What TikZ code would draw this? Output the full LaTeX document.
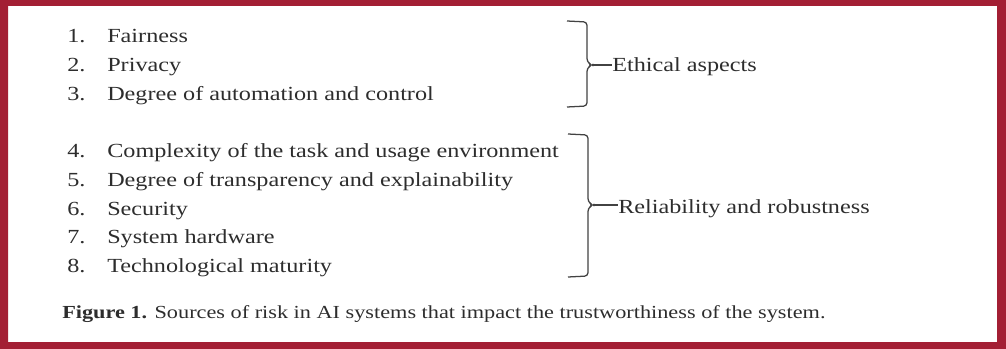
\documentclass[tikz,border=0pt]{standalone}
\usepackage{fontspec}
\setmainfont[FakeStretch=1.21]{Liberation Serif}
\usepackage{tikz}
\usetikzlibrary{calc, positioning}
\definecolor{cFrame}{RGB}{163,31,52}
\definecolor{cText}{RGB}{45,45,45}
\tikzset{
    itemnum/.style={anchor=base west, inner sep=0pt, text=cText, font=\fontsize{15}{17}\selectfont},
    itemtxt/.style={anchor=base west, inner sep=0pt, text=cText, font=\fontsize{15}{17}\selectfont},
    grouplbl/.style={anchor=base west, inner sep=0pt, text=cText, font=\fontsize{15}{17}\selectfont},
    bracket/.style={line width=0.95pt, draw=cText!90, rounded corners=2.5pt},
    caption/.style={anchor=base west, inner sep=0pt, text=cText, font=\fontsize{13.8}{16}\selectfont}
}

\begin{document}
\begin{tikzpicture}[x=0.75pt, y=-0.75pt]
    \useasboundingbox (0,0) rectangle (1006,349);

    % Frame
    \fill[cFrame, even odd rule] (0,0) rectangle (1006,349) (8,6) rectangle (997,342);

    % Ethical items
    \node[itemnum] (n1) at (67,43) {1.};
    \node[itemtxt] (fair) at (107,43) {Fairness};
    \node[itemnum] (n2) at (67,72) {2.};
    \node[itemtxt] (priv) at (107,72) {Privacy};
    \node[itemnum] (n3) at (67,101) {3.};
    \node[itemtxt] (auto) at (107,101) {Degree of automation and control};

    % Reliability items
    \node[itemnum] (n4) at (67,158) {4.};
    \node[itemtxt] (cplx) at (107,158) {Complexity of the task and usage environment};
    \node[itemnum] (n5) at (67,186.5) {5.};
    \node[itemtxt] (trans) at (107,186.5) {Degree of transparency and explainability};
    \node[itemnum] (n6) at (67,215) {6.};
    \node[itemtxt] (secu) at (107,215) {Security};
    \node[itemnum] (n7) at (67,243.5) {7.};
    \node[itemtxt] (hard) at (107,243.5) {System hardware};
    \node[itemnum] (n8) at (67,272) {8.};
    \node[itemtxt] (matu) at (107,272) {Technological maturity};

    % Group labels
    \node[grouplbl] (ethical) at (612,72) {Ethical aspects};
    \node[grouplbl] (reliab) at (618,213) {Reliability and robustness};

    % Braces
    \coordinate (tipE) at (592,65);
    \draw[bracket] (567,21) -- (587,22) -- (587,62) -- (tipE) -- (587,68) -- (587,106) -- (567,107);
    \draw[line width=0.95pt, draw=cText!90] (tipE) -- (tipE -| ethical.west);

    \coordinate (tipR) at (593,205);
    \draw[bracket] (568,134) -- (588,135) -- (588,202) -- (tipR) -- (588,208) -- (588,276) -- (568,277);
    \draw[line width=0.95pt, draw=cText!90] (tipR) -- (tipR -| reliab.west);

    % Caption
    \node[caption] (cap) at (62,318) {\textbf{Figure 1.} Sources of risk in AI systems that impact the trustworthiness of the system.};
\end{tikzpicture}
\end{document}
